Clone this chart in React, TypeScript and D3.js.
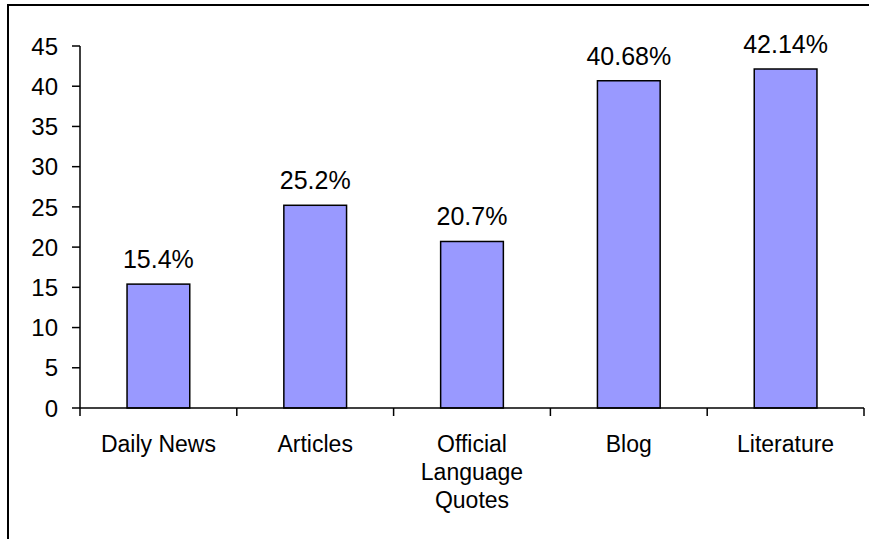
import React from "react";
import * as d3 from "d3";

const categories: string[][] = [
  ["Daily News"],
  ["Articles"],
  ["Official", "Language", "Quotes"],
  ["Blog"],
  ["Literature"],
];
const values = [15.4, 25.2, 20.7, 40.68, 42.14];
const valueLabels = ["15.4%", "25.2%", "20.7%", "40.68%", "42.14%"];
const yTicks = [0, 5, 10, 15, 20, 25, 30, 35, 40, 45];

const W = 869;
const H = 539;
const left = 80;
const right = 864;
const top = 46;
const bottom = 408;
const FONT = "'Liberation Sans', Arial, sans-serif";

export default function App() {
  const keys = categories.map((c) => c.join(" "));
  const x = d3.scaleBand<string>().domain(keys).range([left, right]).paddingInner(0.6).paddingOuter(0.3);
  const y = d3.scaleLinear().domain([0, 45]).range([bottom, top]);
  const step = (right - left) / keys.length;
  const boundaries = d3.range(keys.length + 1).map((i) => left + i * step);

  return (
    <svg
      width={W}
      height={H}
      style={{ position: "absolute", left: 0, top: 0, display: "block", background: "#fff" }}
      fontFamily={FONT}
    >
      <rect x={8} y={5} width={W + 10} height={H + 10} fill="#fff" stroke="#000" strokeWidth={2} />
      {/* bars */}
      {values.map((v, i) => (
        <g key={keys[i]}>
          <rect
            x={x(keys[i])}
            y={y(v)}
            width={x.bandwidth()}
            height={bottom - y(v)}
            fill="#9999FF"
            stroke="#000"
            strokeWidth={1.5}
          />
          <text
            x={(x(keys[i]) as number) + x.bandwidth() / 2}
            y={y(v) - 16}
            textAnchor="middle"
            fontSize={25}
            fill="#000"
          >
            {valueLabels[i]}
          </text>
        </g>
      ))}
      {/* y axis */}
      <line x1={left} x2={left} y1={y(45)} y2={bottom} stroke="#000" strokeWidth={1.5} />
      {yTicks.map((t) => (
        <g key={t}>
          <line x1={left - 8} x2={left} y1={y(t)} y2={y(t)} stroke="#000" strokeWidth={1.5} />
          <text x={left - 22} y={y(t)} dy="0.36em" textAnchor="end" fontSize={24} fill="#000">
            {t}
          </text>
        </g>
      ))}
      {/* x axis */}
      <line x1={left} x2={right} y1={bottom} y2={bottom} stroke="#000" strokeWidth={1.5} />
      {boundaries.map((b, i) => (
        <line key={i} x1={b} x2={b} y1={bottom} y2={bottom + 8} stroke="#000" strokeWidth={1.5} />
      ))}
      {categories.map((lines, i) => (
        <text
          key={keys[i]}
          x={left + (i + 0.5) * step}
          y={452}
          textAnchor="middle"
          fontSize={23}
          fill="#000"
        >
          {lines.map((l, j) => (
            <tspan key={j} x={left + (i + 0.5) * step} dy={j === 0 ? 0 : 28}>
              {l}
            </tspan>
          ))}
        </text>
      ))}
    </svg>
  );
}
